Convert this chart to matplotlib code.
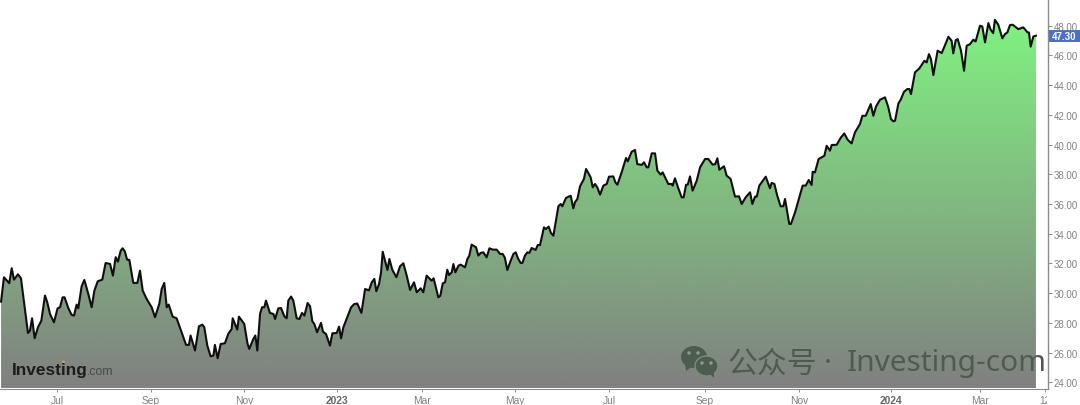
import numpy as np
import matplotlib
matplotlib.use("Agg")
import matplotlib.pyplot as plt
from matplotlib.patches import Polygon, Ellipse, Rectangle
from matplotlib.transforms import Bbox

plt.rcParams['font.family'] = ['Liberation Sans', 'DejaVu Sans']

# dias desde a borda esquerda do grafico
dias = [0.7, 2.6, 6.1, 7.7, 9.2, 11.8, 13.8, 15.8, 18.4, 19.7, 21.1, 22.8, 25.0, 27.2, 29.6, 31.1, 32.9, 35.5, 37.9, 39.5,
        41.2, 42.5, 45.0, 47.1, 48.7, 50.4, 51.5, 53.7, 55.5, 58.1, 60.3, 62.1, 64.3, 67.3, 69.5, 72.4, 74.3, 76.1, 77.6, 79.4,
        80.7, 82.2, 83.6, 85.1, 87.7, 90.4, 92.1, 93.9, 96.5, 99.8, 102.0, 104.8, 106.4, 108.1, 109.7, 111.0, 113.6, 116.2, 119.5, 122.4,
        124.3, 125.4, 128.3, 130.9, 133.1, 134.4, 136.4, 138.6, 140.4, 141.4, 143.2, 145.2, 148.0, 150.2, 152.4, 153.1, 156.1, 157.2, 160.7, 162.9,
        164.0, 166.7, 168.0, 169.3, 171.1, 172.4, 173.9, 175.0, 177.6,
        179.9, 181.0, 183.1, 184.9, 187.1, 188.6, 189.7, 191.5, 193.0, 195.2, 197.0, 198.7, 200.3, 202.4, 204.0, 205.5, 206.8, 208.6, 211.2, 212.5,
        214.5, 217.1, 218.7, 221.5, 223.1, 224.4, 225.9, 228.5, 231.0, 233.1, 235.1, 237.8, 240.2, 242.8, 244.6, 246.3, 247.6, 249.4, 250.7, 251.8,
        253.3, 254.9, 256.2, 258.1, 260.8, 263.2, 265.4, 267.6, 269.8, 272.4, 274.2, 276.8, 278.5, 280.7, 284.0, 285.3, 288.4, 289.7, 291.3, 292.8,
        294.3, 295.4, 297.2, 298.3, 299.6, 301.6, 303.1, 306.0, 307.5, 308.8, 310.3, 313.2, 314.7, 316.3, 318.0, 320.2, 322.0, 324.2, 326.8, 329.0,
        330.7, 332.1, 333.8, 335.6, 337.8, 339.3, 341.0, 342.6, 343.7, 345.4, 347.0, 348.3, 349.8, 352.4, 353.8, 355.3,
        357.9, 359.2, 361.0, 362.5, 364.1, 366.3, 367.4, 368.9, 370.0, 372.4, 375.5, 377.2, 378.3, 379.9, 381.6, 384.2, 385.6, 388.6, 390.0, 391.5,
        393.0, 394.8, 397.0, 399.2, 400.7, 403.5, 404.9, 406.2, 409.0, 411.9, 413.0, 415.6, 417.8, 419.3, 422.2, 423.7, 425.5, 426.6, 428.8, 431.0,
        432.5, 434.7, 436.0, 439.7, 441.9, 442.6, 444.1, 446.3, 448.5, 449.8, 451.4, 452.5, 454.0, 455.7, 458.4, 460.6, 463.9, 466.0, 468.9, 470.6,
        472.0, 473.3, 476.4, 478.1, 480.7, 483.6, 486.2, 488.0, 490.6, 493.5, 495.0, 496.8, 497.9, 499.6, 503.8, 506.6, 507.7, 509.5, 511.4, 513.6,
        515.4, 516.5, 519.3, 520.4, 523.1, 528.1, 530.1, 532.1, 534.0,
        534.7, 536.2, 538.6, 542.4, 543.9, 546.1, 547.2, 550.5, 553.3, 555.5, 557.7, 560.3, 562.5, 565.8, 567.4, 569.6, 572.9, 574.6, 576.4, 579.0,
        582.3, 584.5, 586.2, 587.8, 588.9, 591.1, 592.6, 594.8, 597.0, 598.3, 599.4, 602.0, 604.9, 608.2, 609.7, 611.2, 612.5, 614.1, 616.9, 619.6,
        621.8, 624.0, 626.1, 627.2, 628.8, 630.1, 632.3, 634.3, 636.0, 638.2, 640.4, 641.9, 644.8, 646.3, 648.1, 650.3, 651.8, 653.5, 654.6, 656.8,
        659.5, 661.2, 662.8, 664.5, 666.3, 670.0, 673.3, 676.1, 677.0, 678.1, 679.9, 681.6]

precos = [29.43, 31.07, 30.67, 31.68, 30.91, 31.27, 31.0, 29.39, 27.32, 27.48, 28.31, 26.97, 27.71, 28.15, 29.84, 29.39, 28.6, 28.04, 28.98, 29.05,
          29.72, 29.72, 28.98, 28.54, 28.49, 29.23, 28.98, 30.46, 30.89, 29.95, 29.05, 30.17, 30.8, 30.91, 32.03, 31.97, 31.18, 32.42, 32.12, 32.86,
          33.02, 32.8, 32.26, 32.24, 30.69, 30.69, 31.52, 30.17, 29.61, 29.05, 28.38, 29.28, 30.29, 30.69, 29.05, 29.23, 28.42, 28.31, 27.37, 26.52,
          26.52, 27.15, 26.14, 27.77, 27.88, 27.71, 26.47, 25.75, 25.8, 26.52, 25.62, 26.58, 26.63, 27.26, 27.59, 28.31, 27.55, 28.42, 27.93, 26.58,
          26.25, 26.92, 27.15, 26.14, 28.6, 29.05, 29.05, 29.5, 28.67,
          28.6, 28.26, 28.98, 29.0, 28.44, 28.31, 29.5, 29.77, 29.5, 28.31, 28.26, 28.67, 28.49, 29.34, 29.12, 28.11, 27.93, 27.37, 28.0, 27.41,
          27.25, 26.47, 27.3, 27.32, 27.75, 26.96, 27.7, 28.38, 29.05, 29.27, 29.3, 28.67, 30.28, 30.19, 30.73, 30.96, 30.13, 30.62, 31.4, 32.79,
          32.19, 31.56, 32.3, 31.58, 31.07, 31.81, 32.01, 31.18, 30.22, 30.73, 30.06, 30.33, 30.06, 31.18, 30.84, 31.0, 29.72, 29.83, 30.66, 30.73,
          31.58, 31.22, 31.4, 31.96, 31.4, 31.85, 31.92, 31.74, 32.3, 32.53, 33.27, 33.09, 32.53, 32.71, 32.75, 32.41, 33.02, 32.93, 32.93, 32.64,
          32.64, 32.41, 31.56, 32.08, 32.64, 32.75, 32.3, 32.03, 32.03, 32.53, 32.75, 32.71, 33.04, 32.91, 33.24, 33.24,
          34.43, 34.32, 34.48, 34.05, 33.87, 35.22, 35.85, 36.0, 35.85, 36.41, 36.56, 35.71, 36.12, 36.34, 37.19, 37.69, 38.36, 37.8, 37.12, 37.35,
          37.12, 36.63, 37.24, 37.35, 37.84, 37.86, 37.46, 37.3, 38.13, 39.1, 38.87, 39.52, 39.64, 38.69, 38.63, 38.81, 38.47, 38.47, 39.41, 39.41,
          38.25, 37.98, 38.13, 37.35, 37.35, 37.24, 37.73, 37.06, 36.45, 36.45, 37.3, 37.3, 37.86, 36.9, 37.57, 38.47, 39.03, 39.03, 38.65, 38.69,
          39.08, 38.31, 38.54, 37.91, 37.69, 36.5, 36.52, 36.0, 36.45, 36.79, 36.0, 36.5, 36.5, 37.24, 37.84, 37.06, 37.42, 37.35, 36.56, 35.85,
          35.85, 36.34, 34.66, 34.66, 35.44, 37.24, 37.24, 37.62, 37.28,
          38.17, 38.13, 39.03, 39.25, 39.92, 39.59, 39.97, 39.99, 40.48, 40.75, 40.33, 40.08, 40.82, 41.38, 41.94, 41.94, 42.73, 41.94, 42.57, 43.02,
          43.18, 42.5, 41.72, 41.56, 41.61, 42.77, 43.02, 43.56, 43.74, 43.74, 43.4, 44.86, 45.13, 45.64, 45.53, 46.09, 45.76, 44.68, 46.32, 46.16,
          46.7, 47.26, 46.99, 46.14, 47.03, 47.1, 46.32, 44.97, 46.65, 46.76, 47.06, 46.94, 48.0, 47.95, 46.88, 48.18, 47.73, 47.5, 48.4, 48.07,
          47.15, 47.44, 47.55, 48.04, 48.07, 47.77, 47.89, 47.55, 47.55, 46.59, 47.28, 47.33]

ticks_x = [37.5, 99.4, 160.6, 221.7, 277.7, 338.9, 400.7, 463.9, 525.7, 586.3, 644.9, 687.6]
labels_x = ['Jul', 'Sep', 'Nov', '2023', 'Mar', 'May', 'Jul', 'Sep', 'Nov', '2024', 'Mar', '12']
ticks_y = [24, 26, 28, 30, 32, 34, 36, 38, 40, 42, 44, 46, 48]
preco_atual = 47.30

cinza = '#808080'

fig = plt.figure(figsize=(10.8, 4.06), dpi=100, facecolor='white')
ax = fig.add_axes([0, 1 - 390 / 406, 1047.5 / 1080, 390 / 406])
ax.set_xlim(0, 689.2)
ax.set_ylim(23.55, 49.80)

# preenchimento em gradiente: cinza embaixo, verde em cima
n = 256
t = np.linspace(0, 1, n)[:, None]
base = np.array([128, 128, 128]) / 255
topo = np.array([128, 242, 128]) / 255
grad = base[None, :] * (1 - t) + topo[None, :] * t
base_y = 23.62
im = ax.imshow(grad[:, None, :], origin='lower', aspect='auto',
               extent=[0, 681.6, base_y, 48.5], zorder=1)
poly = Polygon(list(zip(dias, precos)) + [(681.6, base_y), (0.7, base_y)],
               closed=True, transform=ax.transData, facecolor='none', edgecolor='none')
ax.add_patch(poly)
im.set_clip_path(poly)
ax.set_xlim(0, 689.2)
ax.set_ylim(23.55, 49.80)

ax.plot(dias, precos, color='#0f0f0f', lw=1.5, zorder=3, solid_joinstyle='round')

for lado in ['top', 'left']:
    ax.spines[lado].set_visible(False)
ax.spines['right'].set_color('#8a8a8a')
ax.spines['bottom'].set_color('#8a8a8a')
ax.spines['right'].set_linewidth(1.0)
ax.spines['bottom'].set_linewidth(0.8)

ax.yaxis.tick_right()
ax.set_yticks(ticks_y)
ax.set_yticklabels([f'{v:.2f}' for v in ticks_y], fontsize=7, color=cinza)
ax.tick_params(axis='y', length=3, width=0.7, color='#8a8a8a', pad=1.5)
ax.set_xticks(ticks_x)
ax.set_xticklabels(labels_x, fontsize=7.4, color=cinza)
ax.tick_params(axis='x', length=2.5, width=0.7, color='#8a8a8a', pad=1.5)
for lab in ax.get_xticklabels():
    if lab.get_text() in ('2023', '2024'):
        lab.set_fontweight('bold')
        lab.set_color('#666666')
    if lab.get_text() == '12':
        lab.set_clip_box(Bbox([[0, 0], [1047, 406]]))
        lab.set_clip_on(True)

# rotulo 50.00 cortado no topo
ax.text(1.005, 50.0, '50.00', transform=ax.get_yaxis_transform(), fontsize=7, color=cinza,
        va='center', ha='left', clip_on=False)

# camada por baixo em pixels para a caixa azul do preco
ov = fig.add_axes([0, 0, 1, 1], facecolor='none')
ov.set_xlim(0, 1080)
ov.set_ylim(406, 0)
ov.axis('off')

ov.add_patch(Rectangle((1048, 30.5), 32, 12.5, facecolor='#4a6fc8', edgecolor='none'))
ax.text(1.0045, preco_atual, f'{preco_atual:.2f}', transform=ax.get_yaxis_transform(), fontsize=7,
        color='white', fontweight='bold', va='center', ha='left', clip_on=False, zorder=10)
ax.set_zorder(ov.get_zorder() + 1)
ax.patch.set_visible(False)

# camada por cima para logo e marca d'agua
ov2 = fig.add_axes([0, 0, 1, 1], facecolor='none')
ov2.set_xlim(0, 1080)
ov2.set_ylim(406, 0)
ov2.axis('off')
ov2.set_zorder(ax.get_zorder() + 1)

ov2.text(12, 370.5, 'Investing', fontsize=12.4, fontweight='bold', color='#1c1c1c', va='center', ha='left')
ov2.text(87, 372, '.com', fontsize=8.8, color='#454a45', va='center', ha='left')
ov2.add_patch(Ellipse((63.5, 363), 3, 3, facecolor='#d9a860', edgecolor='none', alpha=0.8))

cor_marca = '#4e5c4f'
ov2.add_patch(Ellipse((694, 358), 26, 22, facecolor=cor_marca, edgecolor='none'))
ov2.add_patch(Polygon([(685, 365), (686, 372), (693, 367)], closed=True, facecolor=cor_marca, edgecolor='none'))
ov2.add_patch(Ellipse((706.5, 367), 23, 20, facecolor=cor_marca, edgecolor='#77907a', lw=1.0))
ov2.add_patch(Polygon([(709, 374), (714, 379), (714, 372)], closed=True, facecolor=cor_marca, edgecolor='none'))
for ox, oy in [(689, 354), (698, 354), (702, 364), (711, 364)]:
    ov2.add_patch(Ellipse((ox, oy), 3.5, 3.5, facecolor='#8a9c8c', edgecolor='none'))

ov2.text(727, 364, '公众号', fontsize=21.5, color=cor_marca, va='center', ha='left',
         family=['Noto Sans CJK SC', 'DejaVu Sans'])
ov2.text(828, 364, '·', fontsize=21.5, color=cor_marca, va='center', ha='center',
         family=['Noto Sans', 'DejaVu Sans'])
ov2.text(847, 364, 'Investing-com', fontsize=21.5, color=cor_marca, va='center', ha='left',
         family=['Noto Sans', 'DejaVu Sans'])

fig.savefig('out.png', dpi=100, facecolor='white')
